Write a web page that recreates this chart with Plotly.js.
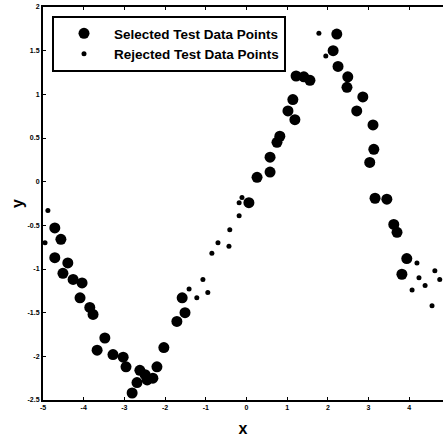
<!DOCTYPE html>
<html>
<head>
<meta charset="utf-8">
<script src="https://cdn.plot.ly/plotly-3.0.1.min.js"></script>
<style>html,body{margin:0;padding:0;background:#fff;}#chart{width:443px;height:441px;}</style>
</head>
<body>
<div id="chart"></div>
<script>
// Selected test data points
var selectedX = [-4.71,-4.56,-4.71,-4.39,-4.51,-4.26,-4.04,-4.09,-3.85,-3.77,-3.48,-3.67,-3.28,-3.03,-2.96,-2.62,-2.44,-2.69,-2.30,-2.20,-2.03,-2.81,-2.49,-1.71,-1.51,-1.58,
  0.06,0.26,0.58,0.58,0.75,0.82,1.19,1.14,1.02,1.22,1.41,1.56,
  2.22,2.13,2.25,2.49,2.47,2.86,2.71,3.11,3.13,3.03,3.16,3.45,3.62,3.70,3.94,3.82];
var selectedY = [-0.53,-0.66,-0.87,-0.93,-1.05,-1.12,-1.16,-1.33,-1.44,-1.52,-1.79,-1.93,-1.98,-2.01,-2.12,-2.16,-2.27,-2.30,-2.25,-2.12,-1.90,-2.42,-2.21,-1.60,-1.50,-1.33,
  -0.24,0.05,0.11,0.28,0.45,0.52,0.71,0.94,0.81,1.21,1.20,1.16,
  1.69,1.50,1.32,1.20,1.08,0.97,0.81,0.65,0.37,0.22,-0.19,-0.20,-0.49,-0.58,-0.88,-1.06];
// Rejected test data points
var rejectedX = [-4.88,-4.95,-1.41,-1.22,-0.95,-1.07,-0.85,-0.43,-0.70,-0.41,-0.18,-0.18,-0.11,1.78,1.95,4.19,4.24,4.39,4.07,4.63,4.75,4.56];
var rejectedY = [-0.33,-0.70,-1.23,-1.33,-1.27,-1.12,-0.82,-0.74,-0.70,-0.55,-0.39,-0.24,-0.18,1.70,1.44,-0.93,-1.10,-1.19,-1.24,-1.02,-1.12,-1.42];
var xTicks = [-5,-4,-3,-2,-1,0,1,2,3,4,5];
var yTicks = [-2.5,-2,-1.5,-1,-0.5,0,0.5,1,1.5,2];

var traces = [
  {x: selectedX, y: selectedY, mode: 'markers', type: 'scatter', name: 'Selected Test Data Points',
   marker: {color: '#000', size: 11}},
  {x: rejectedX, y: rejectedY, mode: 'markers', type: 'scatter', name: 'Rejected Test Data Points',
   marker: {color: '#000', size: 5}}
];
var tf = {family: 'Liberation Sans, Arial', size: 7, color: '#000', weight: 'bold'};
var titleFont = {family: 'Liberation Sans, Arial', size: 16, color: '#000', weight: 'bold'};
var layout = {
  width: 443, height: 441,
  margin: {l: 43, r: 0, t: 7, b: 41},
  paper_bgcolor: '#fff', plot_bgcolor: '#fff',
  showlegend: true,
  legend: {x: 0.0225, y: 0.977, xanchor: 'left', yanchor: 'top',
    bordercolor: '#000', borderwidth: 2, bgcolor: '#fff', itemwidth: 50, entrywidth: 248,
    font: {family: 'Liberation Sans, Arial', size: 13.5, color: '#000', weight: 'bold'}},
  xaxis: {showgrid: false, zeroline: false, showline: true, linecolor: '#000', linewidth: 2,
    mirror: 'ticks', ticks: 'inside', ticklen: 3, tickwidth: 1, tickcolor: '#000', tickfont: tf,
    range: [-5, 4.83], tickvals: xTicks, ticktext: xTicks.map(String),
    title: {text: 'x', font: titleFont, standoff: 12}},
  yaxis: {showgrid: false, zeroline: false, showline: true, linecolor: '#000', linewidth: 2,
    mirror: false, ticks: 'inside', ticklen: 3, tickwidth: 1, tickcolor: '#000', tickfont: tf,
    range: [-2.5, 2.0], tickvals: yTicks, ticktext: yTicks.map(String),
    title: {text: 'y', font: titleFont, standoff: 0}}
};
Plotly.newPlot('chart', traces, layout, {displayModeBar: false, staticPlot: true});
</script>
</body>
</html>
